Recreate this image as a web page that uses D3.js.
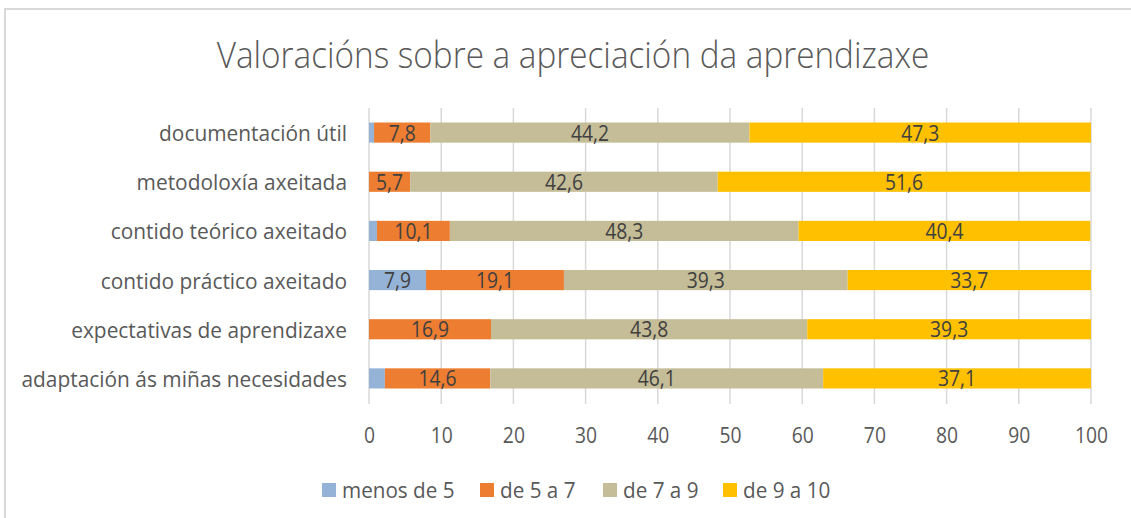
<!DOCTYPE html>
<html><head><meta charset="utf-8">
<script src="https://cdn.jsdelivr.net/npm/d3@7"></script>
<style>body{margin:0;background:#fff}svg{display:block}</style>
</head><body>
<svg id="c" width="1131" height="518"></svg>
<script>
const categories = ["documentación útil","metodoloxía axeitada","contido teórico axeitado","contido práctico axeitado","expectativas de aprendizaxe","adaptación ás miñas necesidades"];
const seriesNames = ["menos de 5","de 5 a 7","de 7 a 9","de 9 a 10"];
const menos5 = [0.7, 0, 1.1, 7.9, 0, 2.2];
const de5a7 = [7.8, 5.7, 10.1, 19.1, 16.9, 14.6];
const de7a9 = [44.2, 42.6, 48.3, 39.3, 43.8, 46.1];
const de9a10 = [47.3, 51.6, 40.4, 33.7, 39.3, 37.1];
const colors = ["#95b3d7","#ed7d31","#c4bd97","#ffc000"];
const xTicks = [0,10,20,30,40,50,60,70,80,90,100];
const title = "Valoracións sobre a apreciación da aprendizaxe";

const svg = d3.select("#c");
const font = "'Open Sans', sans-serif";
function txt(sel, x, y, sx) {
  return sel.attr("transform", (d,i)=>`translate(${typeof x==="function"?x(d,i):x},${typeof y==="function"?y(d,i):y}) scale(${sx},1)`);
}
// border
svg.append("path").attr("d","M5,518 L5,9 L1131,9").attr("fill","none").attr("stroke","#d9d9d9").attr("stroke-width",2);

txt(svg.append("text"), 573, 68, 0.9).attr("text-anchor","middle")
  .attr("font-family",font).attr("font-size",37).attr("font-weight",300).attr("fill","#595959").text(title);

const x = d3.scaleLinear().domain([0,100]).range([369,1091]);
const y = d3.scaleBand().domain(categories).range([108,403]).paddingInner(0.59).paddingOuter(0.295);

// gridlines
svg.append("g").selectAll("line").data(xTicks).join("line")
  .attr("x1",d=>x(d)).attr("x2",d=>x(d)).attr("y1",108).attr("y2",404)
  .attr("stroke","#d9d9d9").attr("stroke-width",1.5);

const seriesVals = [menos5, de5a7, de7a9, de9a10];
const rows = categories.map((c,i)=>{const o={cat:c}; seriesNames.forEach((s,j)=>o[s]=seriesVals[j][i]); return o;});
const stack = d3.stack().keys(seriesNames)(rows);

const g = svg.append("g");
stack.forEach((layer,j)=>{
  g.append("g").selectAll("rect").data(layer).join("rect")
    .attr("x",d=>x(d[0])).attr("width",d=>Math.max(0,x(d[1])-x(d[0])))
    .attr("y",d=>y(d.data.cat)).attr("height",y.bandwidth())
    .attr("fill",colors[j]);
  txt(g.append("g").selectAll("text").data(layer.filter(d=>(d[1]-d[0])>=3)).join("text"),
      d=>(x(d[0])+x(d[1]))/2, d=>y(d.data.cat)+y.bandwidth()/2+8, 0.92)
    .attr("text-anchor","middle").attr("font-family",font).attr("font-size",21).attr("fill","#404040")
    .text(d=>(Math.round((d[1]-d[0])*10)/10).toFixed(1).replace(".",","));
});

// category labels
txt(svg.append("g").selectAll("text").data(categories).join("text"), 347, d=>y(d)+y.bandwidth()/2+8.5, 0.95)
  .attr("text-anchor","end")
  .attr("font-family",font).attr("font-size",22).attr("fill","#595959").text(d=>d);

// x axis labels
const ax = svg.append("g").attr("transform","translate(0,404)").call(d3.axisBottom(x).tickValues(xTicks).tickSize(0).tickPadding(0));
ax.select(".domain").remove();
ax.selectAll(".tick text").attr("y",null).attr("dy",0).attr("x",0)
  .attr("font-family",font).attr("font-size",21).attr("fill","#595959")
  .attr("transform","translate(0,39) scale(0.92,1)");

// legend
const legX = [322, 480, 603, 723];
const leg = svg.append("g").selectAll("g").data(seriesNames).join("g").attr("transform",(d,i)=>`translate(${legX[i]},483)`);
leg.append("rect").attr("width",14).attr("height",14).attr("fill",(d,i)=>colors[i]);
txt(leg.append("text"), 20, 14.5, 0.94).attr("font-family",font).attr("font-size",22).attr("fill","#595959").text(d=>d);
</script>
</body></html>
